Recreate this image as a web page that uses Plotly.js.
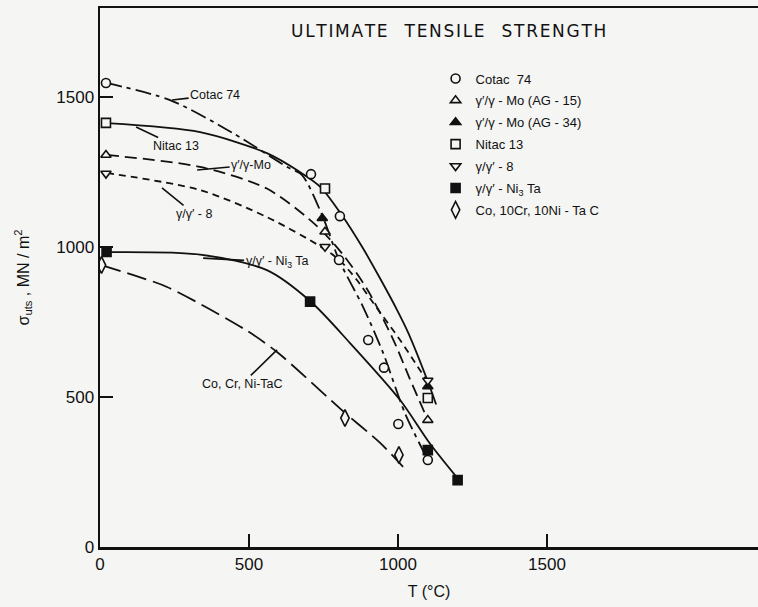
<!DOCTYPE html>
<html>
<head>
<meta charset="utf-8">
<script src="https://cdn.plot.ly/plotly-3.0.1.min.js"></script>
<style>html,body{margin:0;padding:0;background:#f5f5f3;}</style>
</head>
<body>
<div id="chart" style="width:758px;height:607px;"></div>
<script>
// ---- measured data points (T in °C, sigma_uts in MN/m^2) ----
const cotacT = [20, 708, 805, 802, 900, 953, 1001, 1100];
const cotacS = [1547, 1243, 1103, 957, 690, 598, 410, 290];
const moAG15T = [20, 755, 1100];
const moAG15S = [1307, 1051, 423];
const moAG34T = [746, 1100];
const moAG34S = [1096, 535];
const nitacT = [20, 755, 1100];
const nitacS = [1414, 1195, 497];
const g8T = [20, 755, 1100];
const g8S = [1245, 1001, 555];
const ni3taT = [22, 705, 1100, 1200];
const ni3taS = [984, 818, 323, 223];
const cotacT2 = [5, 822, 1003];
const cotacS2 = [940, 430, 307];

// ---- hand-drawn fit curves ----
const cotacCurveT = [20, 235, 446, 628, 678, 748, 802, 883, 950, 1023, 1095];
const cotacCurveS = [1547, 1490, 1380, 1267, 1240, 1100, 957, 800, 647, 447, 300];
const nitacCurveT = [23, 336, 560, 671, 740, 809, 883, 940, 997, 1034, 1097, 1128];
const nitacCurveS = [1413, 1383, 1313, 1250, 1200, 1110, 995, 895, 790, 715, 560, 475];
const moCurveT = [23, 336, 560, 728, 815, 896, 980, 1040, 1100];
const moCurveS = [1307, 1267, 1195, 1070, 975, 860, 700, 560, 423];
const g8CurveT = [23, 336, 560, 738, 805, 862, 916, 1007, 1057, 1100];
const g8CurveS = [1247, 1190, 1100, 1003, 955, 890, 815, 690, 615, 550];
const ni3taCurveT = [23, 336, 560, 705, 839, 1007, 1107, 1205];
const ni3taCurveS = [983, 975, 923, 820, 680, 490, 345, 223];
const cotacCurveT2 = [5, 110, 225, 490, 594, 822, 940, 1017];
const cotacCurveS2 = [940, 907, 867, 723, 650, 447, 347, 267];

const xTicks = [0, 500, 1000, 1500];
const yTicks = [0, 500, 1000, 1500];

const legendNames = [
  'Cotac  74',
  'γ\u2032/γ - Mo (AG - 15)',
  'γ\u2032/γ - Mo (AG - 34)',
  'Nitac 13',
  'γ/γ\u2032 - 8',
  'γ/γ\u2032 - Ni<sub>3</sub> Ta',
  'Co, 10Cr, 10Ni - Ta C'
];

const INK = '#111';
const BG = '#f5f5f3';
function curve(x, y, dash) {
  return {x: x, y: y, mode: 'lines', showlegend: false, hoverinfo: 'skip',
    line: {color: INK, width: 1.8, dash: dash, shape: 'spline', smoothing: 0.8}};
}
function pts(x, y, name, symbol, filled, group, size) {
  return {x: x, y: y, mode: 'markers', name: name, legendgroup: group,
    marker: {symbol: symbol, size: size || 9, color: filled ? INK : BG,
      line: {color: INK, width: 1.6}}};
}

const traces = [
  curve(cotacCurveT, cotacCurveS, '16px,5px,4px,5px'),
  curve(nitacCurveT, nitacCurveS, 'solid'),
  curve(moCurveT, moCurveS, '12px,6px'),
  curve(g8CurveT, g8CurveS, '7px,5px'),
  curve(ni3taCurveT, ni3taCurveS, 'solid'),
  curve(cotacCurveT2, cotacCurveS2, '20px,7px'),
  pts(cotacT, cotacS, legendNames[0], 'circle', false, 'g1'),
  pts(moAG15T, moAG15S, legendNames[1], 'triangle-up', false, 'g2'),
  pts(moAG34T, moAG34S, legendNames[2], 'triangle-up', true, 'g3'),
  pts(nitacT, nitacS, legendNames[3], 'square', false, 'g4'),
  pts(g8T, g8S, legendNames[4], 'triangle-down', false, 'g5'),
  pts(ni3taT, ni3taS, legendNames[5], 'square', true, 'g6'),
  pts(cotacT2, cotacS2, legendNames[6], 'diamond-tall', false, 'g7', 12)
];

const lblFont = {family: 'Liberation Sans, Arial, sans-serif', size: 12.5, color: INK};
function label(text, x, y, ax, ay) {
  return {text: text, x: x, y: y, xref: 'x', yref: 'y', ax: ax, ay: ay,
    showarrow: true, arrowhead: 0, arrowwidth: 1.6, arrowcolor: INK, font: lblFont};
}

const hs = '\u200A';
function spaced(s) { return s.split(' ').map(w => w.split('').join(hs)).join('\u2002\u2002'); }

const layout = {
  width: 758, height: 607,
  margin: {l: 100, r: 0, t: 8, b: 60},
  paper_bgcolor: BG, plot_bgcolor: BG,
  font: {family: 'Liberation Sans, Arial, sans-serif', color: INK},
  xaxis: {range: [0, 2208], showline: true, linewidth: 2.5, linecolor: INK, mirror: true,
    ticks: 'inside', ticklen: 13, tickwidth: 2, tickcolor: INK, tickvals: xTicks,
    showgrid: false, zeroline: false, tickfont: {size: 17},
    title: {text: 'T (°C)', font: {size: 16}, standoff: 13}},
  yaxis: {range: [0, 1797], showline: true, linewidth: 2.5, linecolor: INK,
    ticks: 'inside', ticklen: 13, tickwidth: 2, tickcolor: INK, tickvals: yTicks,
    showgrid: false, zeroline: false, tickfont: {size: 17},
    title: {text: 'σ<sub>uts</sub> , MN / m<sup>2</sup>', font: {size: 16}, standoff: 23}},
  legend: {x: 0.51, y: 0.897, xanchor: 'left', yanchor: 'top', bgcolor: 'rgba(0,0,0,0)',
    font: {size: 13, color: INK}, tracegroupgap: 2, itemwidth: 30},
  annotations: [
    {text: spaced('ULTIMATE TENSILE STRENGTH'), xref: 'paper', yref: 'paper',
      x: 0.529, y: (547 - 31) / 539, xanchor: 'center', yanchor: 'middle', showarrow: false,
      font: {family: 'DejaVu Sans, sans-serif', size: 17, color: INK}},
    label('Cotac 74', 242, 1490, 43, -5),
    label('Nitac 13', 121, 1400, 40, 19),
    label('γ\u2032/γ-Mo', 326, 1257, 54, -5),
    label('γ/γ\u2032 - 8', 208, 1197, 32, 26),
    label('γ/γ\u2032 - Ni<sub>3</sub> Ta', 346, 963, 74, 4),
    label('Co, Cr, Ni-TaC', 594, 657, -35, 34)
  ]
};

Plotly.newPlot('chart', traces, layout, {displayModeBar: false, staticPlot: true});
</script>
</body>
</html>
